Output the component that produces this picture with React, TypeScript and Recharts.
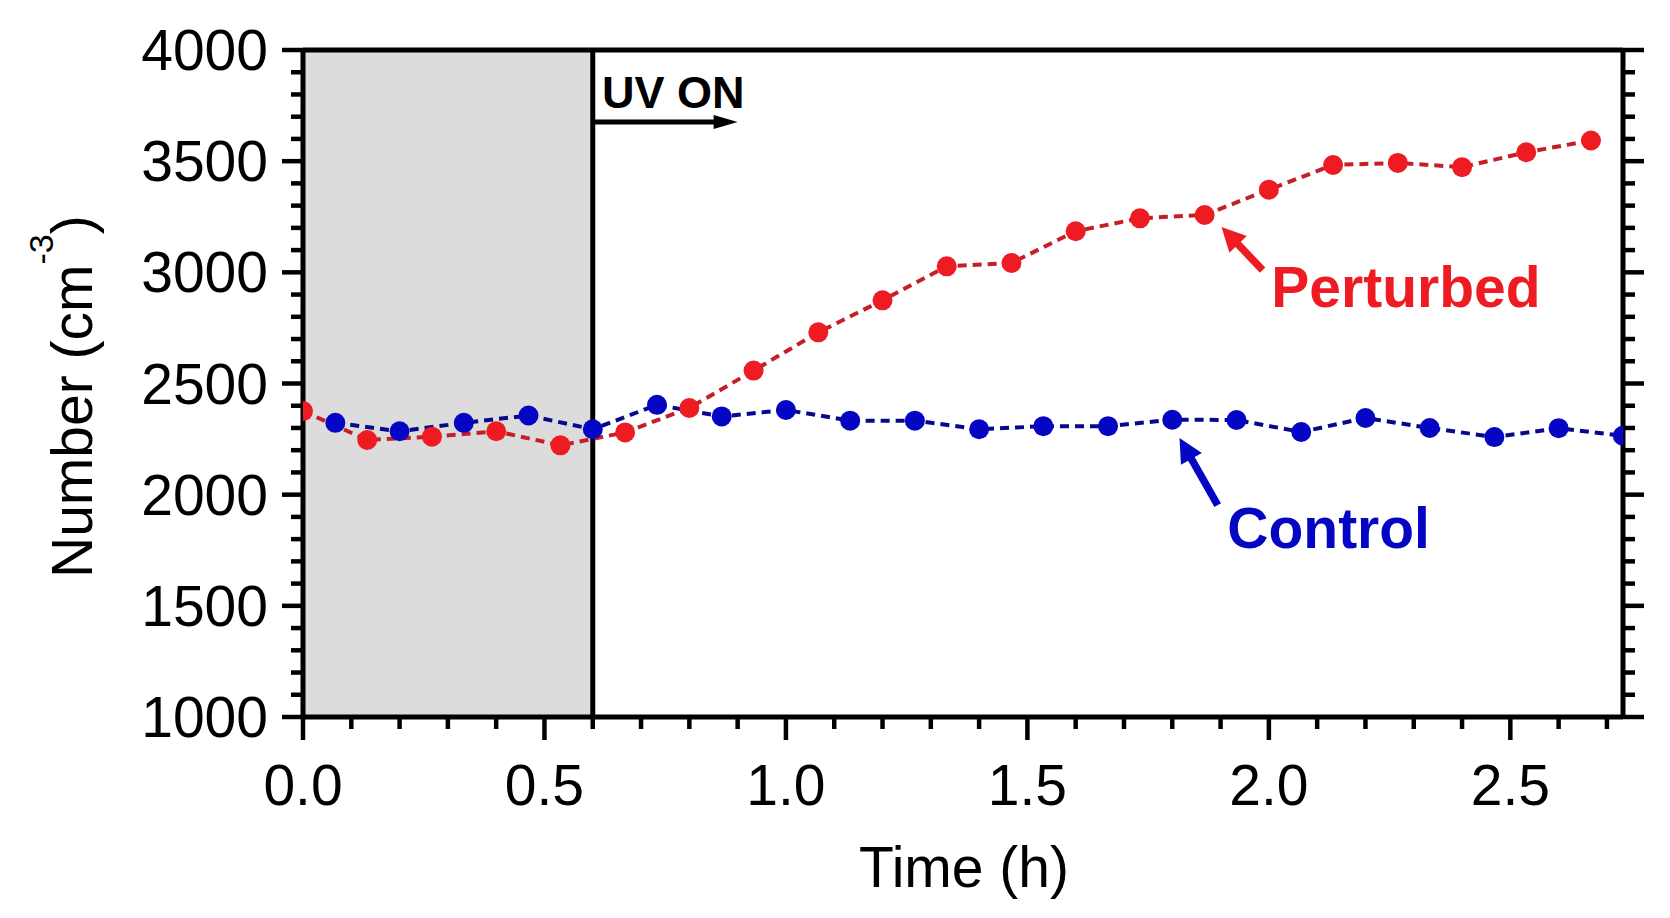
import React from "react";
import {
    LineChart,
    Line,
    XAxis,
    YAxis,
    ReferenceArea,
    ReferenceLine,
    ReferenceDot,
} from "recharts";

// Perturbed chamber (red), sampled every 8 min starting at t = 0
const perturbedTime = [0, 0.133, 0.267, 0.4, 0.533, 0.667, 0.8, 0.933, 1.067, 1.2, 1.333, 1.467, 1.6, 1.733, 1.867, 2.0, 2.133, 2.267, 2.4, 2.533, 2.667];
const perturbedNumber = [2376, 2246, 2261, 2285, 2222, 2280, 2390, 2558, 2730, 2874, 3027, 3042, 3185, 3243, 3258, 3372, 3483, 3492, 3473, 3540, 3593];

// Control chamber (blue), offset by 4 min
const controlTime = [0.067, 0.2, 0.333, 0.467, 0.6, 0.733, 0.867, 1.0, 1.133, 1.267, 1.4, 1.533, 1.667, 1.8, 1.933, 2.067, 2.2, 2.333, 2.467, 2.6, 2.733];
const controlNumber = [2323, 2285, 2323, 2356, 2294, 2404, 2352, 2381, 2333, 2333, 2294, 2308, 2308, 2337, 2336, 2282, 2345, 2300, 2259, 2299, 2265];

// axis ticks
const xMajorTicks = [0, 0.5, 1.0, 1.5, 2.0, 2.5];
const yMajorTicks = [1000, 1500, 2000, 2500, 3000, 3500, 4000];
const X_MINOR_STEP = 0.1;
const Y_MINOR_STEP = 100;
const X_DOMAIN: [number, number] = [0, 2.7333];
const Y_DOMAIN: [number, number] = [1000, 4000];
const UV_ON_TIME = 0.6;

const xAllTicks = Array.from({ length: 28 }, (_, i) => +(i * X_MINOR_STEP).toFixed(1));
const yAllTicks = Array.from({ length: 31 }, (_, i) => 1000 + i * Y_MINOR_STEP);

const perturbedData = perturbedTime.map((t, i) => ({ t, n: perturbedNumber[i] }));
const controlData = controlTime.map((t, i) => ({ t, n: controlNumber[i] }));

const FONT = "'Liberation Sans', Arial, Helvetica, sans-serif";
const RED = "#ee1c22";
const RED_LINE = "#c41f27";
const BLUE = "#0505c4";
const BLUE_LINE = "#08088a";
const TICK_W = 4.5;
const AXIS = { stroke: "#000", strokeWidth: 5 };

const isMajorX = (v: number) => xMajorTicks.some((m) => Math.abs(m - v) < 1e-6);
const isMajorY = (v: number) => yMajorTicks.includes(v);

const BottomTick = ({ x, y, payload }: any) => {
    const major = isMajorX(payload.value);
    return (
        <g>
            <line x1={x} x2={x} y1={y} y2={y + (major ? 23 : 12)} stroke="#000" strokeWidth={TICK_W} />
            {major && (
                <text x={x} y={y + 88} textAnchor="middle" fontSize={57} fontFamily={FONT} fill="#000">
                    {payload.value.toFixed(1)}
                </text>
            )}
        </g>
    );
};

const TopTick = ({ x, y, payload }: any) => {
    const major = isMajorX(payload.value);
    return <line x1={x} x2={x} y1={y} y2={y - (major ? 22 : 12)} stroke="#000" strokeWidth={TICK_W} />;
};

const LeftTick = ({ x, y, payload }: any) => {
    const major = isMajorY(payload.value);
    return (
        <g>
            <line x1={x} x2={x - (major ? 21 : 12)} y1={y} y2={y} stroke="#000" strokeWidth={TICK_W} />
            {major && (
                <text x={x - 35} y={y + 20} textAnchor="end" fontSize={57} fontFamily={FONT} fill="#000">
                    {payload.value}
                </text>
            )}
        </g>
    );
};

const RightTick = ({ x, y, payload }: any) => {
    const major = isMajorY(payload.value);
    return <line x1={x} x2={x + (major ? 21 : 12)} y1={y} y2={y} stroke="#000" strokeWidth={TICK_W} />;
};

// arrow drawn from (x1,y1) tail to (x2,y2) tip
const arrowShape = (color: string, width: number, headLen: number, headHalf: number) => (p: any) => {
    const { x1, y1, x2, y2 } = p;
    const dx = x2 - x1;
    const dy = y2 - y1;
    const len = Math.hypot(dx, dy) || 1;
    const ux = dx / len;
    const uy = dy / len;
    const bx = x2 - ux * headLen;
    const by = y2 - uy * headLen;
    const nx = -uy;
    const ny = ux;
    return (
        <g>
            <line x1={x1} y1={y1} x2={bx + ux * 2} y2={by + uy * 2} stroke={color} strokeWidth={width} />
            <polygon
                points={`${x2},${y2} ${bx + nx * headHalf},${by + ny * headHalf} ${bx - nx * headHalf},${by - ny * headHalf}`}
                fill={color}
            />
        </g>
    );
};

const textShape = (label: string, color: string, size: number) => (p: any) => (
    <text x={p.cx} y={p.cy} fontSize={size} fontWeight="bold" fontFamily={FONT} fill={color}>
        {label}
    </text>
);

export default function App() {
    return (
        <div style={{ position: "absolute", left: 0, top: 0, background: "#fff" }}>
            <LineChart
                width={1670}
                height={918}
                margin={{ top: 20, right: 17, bottom: 101, left: 203 }}
                style={{ fontFamily: FONT }}
            >
                <XAxis
                    xAxisId={0}
                    type="number"
                    dataKey="t"
                    domain={X_DOMAIN}
                    ticks={xAllTicks}
                    interval={0}
                    height={100}
                    tickSize={0}
                    tickMargin={0}
                    tickLine={false}
                    tick={<BottomTick />}
                    axisLine={AXIS}
                    allowDataOverflow
                    label={{
                        content: () => (
                            <text x={964} y={887} textAnchor="middle" fontSize={57} fontFamily={FONT} fill="#000">
                                Time (h)
                            </text>
                        ),
                    }}
                />
                <XAxis
                    xAxisId="top"
                    orientation="top"
                    type="number"
                    domain={X_DOMAIN}
                    ticks={xAllTicks}
                    interval={0}
                    height={30}
                    tickSize={0}
                    tickMargin={0}
                    tickLine={false}
                    tick={<TopTick />}
                    axisLine={AXIS}
                    allowDataOverflow
                />
                <YAxis
                    yAxisId={0}
                    type="number"
                    domain={Y_DOMAIN}
                    ticks={yAllTicks}
                    interval={0}
                    width={100}
                    tickSize={0}
                    tickMargin={0}
                    tickLine={false}
                    tick={<LeftTick />}
                    axisLine={AXIS}
                    allowDataOverflow
                    label={{
                        content: () => (
                            <text transform="translate(92,578) rotate(-90)" fontSize={57} fontFamily={FONT} fill="#000">
                                <tspan>Number (cm</tspan>
                                <tspan dy={-39} fontSize={34}>-3</tspan>
                                <tspan dy={39}>)</tspan>
                            </text>
                        ),
                    }}
                />
                <YAxis
                    yAxisId="right"
                    orientation="right"
                    type="number"
                    domain={Y_DOMAIN}
                    ticks={yAllTicks}
                    interval={0}
                    width={30}
                    tickSize={0}
                    tickMargin={0}
                    tickLine={false}
                    tick={<RightTick />}
                    axisLine={AXIS}
                    allowDataOverflow
                />

                <ReferenceArea x1={0} x2={UV_ON_TIME} y1={1000} y2={4000} fill="#dcdcdc" fillOpacity={1} stroke="none" />
                <ReferenceLine x={UV_ON_TIME} stroke="#000" strokeWidth={5} />

                <ReferenceLine
                    segment={[{ x: UV_ON_TIME, y: 3676 }, { x: 0.9, y: 3676 }]}
                    shape={arrowShape("#000", 5, 24, 7)}
                />
                <ReferenceDot x={0.619} y={3739} r={0} shape={textShape("UV ON", "#000", 45)} />

                <ReferenceLine
                    segment={[{ x: 1.987, y: 3010 }, { x: 1.902, y: 3204 }]}
                    shape={arrowShape(RED, 7.5, 24, 12)}
                />
                <ReferenceDot x={2.005} y={2844} r={0} shape={textShape("Perturbed", RED, 57)} />

                <ReferenceLine
                    segment={[{ x: 1.894, y: 1953 }, { x: 1.815, y: 2255 }]}
                    shape={arrowShape(BLUE, 7.5, 24, 12)}
                />
                <ReferenceDot x={1.914} y={1760} r={0} shape={textShape("Control", BLUE, 57)} />

                <Line
                    data={perturbedData}
                    dataKey="n"
                    type="linear"
                    stroke={RED_LINE}
                    strokeWidth={4}
                    strokeDasharray="9 6"
                    dot={{ r: 10, fill: RED, stroke: RED, strokeWidth: 0 }}
                    activeDot={false}
                    isAnimationActive={false}
                />
                <Line
                    data={controlData}
                    dataKey="n"
                    type="linear"
                    stroke={BLUE_LINE}
                    strokeWidth={4}
                    strokeDasharray="9 6"
                    dot={{ r: 10, fill: BLUE, stroke: BLUE, strokeWidth: 0 }}
                    activeDot={false}
                    isAnimationActive={false}
                />
            </LineChart>
        </div>
    );
}
